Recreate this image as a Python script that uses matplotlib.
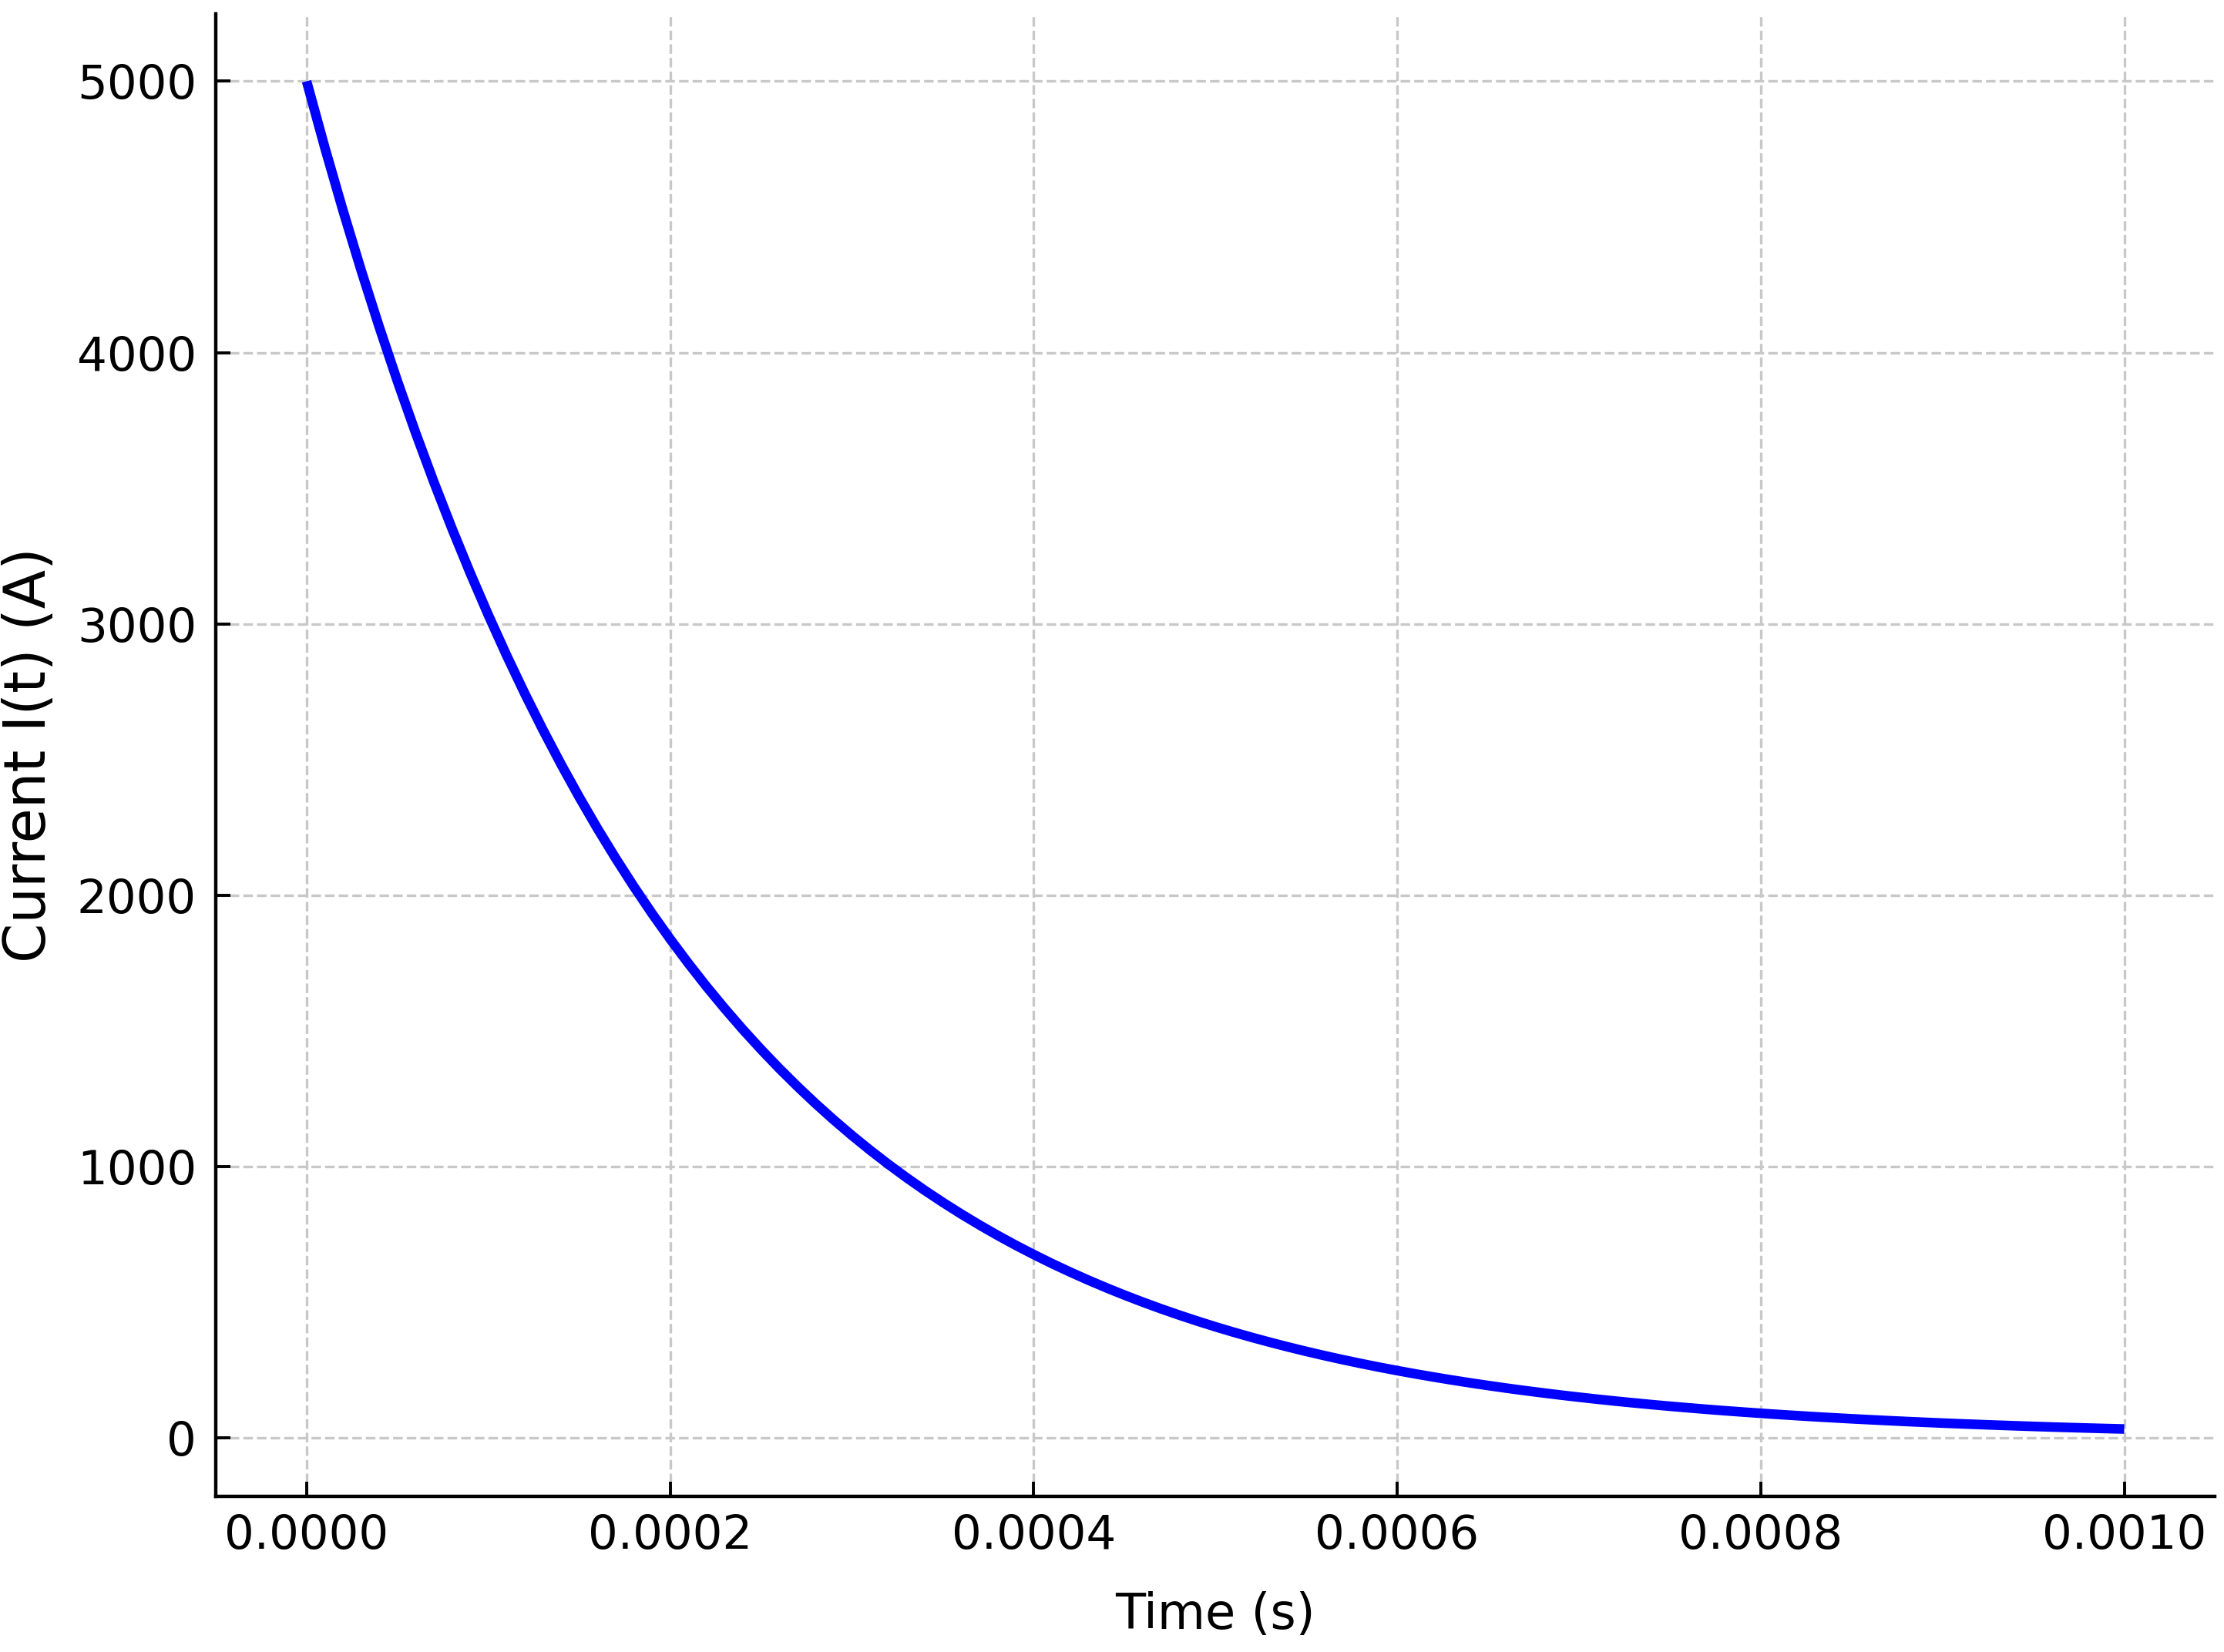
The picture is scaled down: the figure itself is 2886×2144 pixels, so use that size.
import matplotlib
matplotlib.use("Agg")
import matplotlib.pyplot as plt

# Time samples (s) and current values (A)
time_s = [k * 0.00001 for k in range(101)]
current_a = [5000.0, 4756.1, 4524.2, 4303.5, 4093.7, 3894.0, 3704.1, 3523.4, 3351.6, 3188.1,
             3032.7, 2884.8, 2744.1, 2610.3, 2483.0, 2361.9, 2246.6, 2137.1, 2032.8, 1933.7,
             1839.4, 1749.7, 1664.3, 1583.2, 1505.9, 1432.5, 1362.6, 1296.2, 1232.9, 1172.8,
             1115.6, 1061.2, 1009.5, 960.2, 913.4, 868.9, 826.5, 786.2, 747.8, 711.3,
             676.7, 643.6, 612.3, 582.4, 554.0, 527.0, 501.3, 476.8, 453.6, 431.5,
             410.4, 390.4, 371.4, 353.3, 336.0, 319.6, 304.0, 289.2, 275.1, 261.7,
             248.9, 236.8, 225.3, 214.3, 203.8, 193.9, 184.4, 175.4, 166.9, 158.7,
             151.0, 143.6, 136.6, 130.0, 123.6, 117.6, 111.9, 106.4, 101.2, 96.3,
             91.6, 87.1, 82.9, 78.8, 75.0, 71.3, 67.9, 64.6, 61.4, 58.4,
             55.5, 52.8, 50.3, 47.8, 45.5, 43.2, 41.1, 39.1, 37.2, 35.4,
             33.7]

x_ticks = [0.0, 0.0002, 0.0004, 0.0006, 0.0008, 0.0010]
x_tick_labels = ["0.0000", "0.0002", "0.0004", "0.0006", "0.0008", "0.0010"]
y_ticks = [0, 1000, 2000, 3000, 4000, 5000]
y_tick_labels = ["0", "1000", "2000", "3000", "4000", "5000"]

x_label = "Time (s)"
y_label = "Current I(t) (A)"

DPI = 200
fig = plt.figure(figsize=(2886 / DPI, 2144 / DPI), dpi=DPI)
ax = fig.add_axes([0.097, 0.0942, 0.899, 0.8974])

ax.plot(time_s, current_a, color="blue", linewidth=4.5,
        solid_joinstyle="round", solid_capstyle="butt")

ax.grid(True, linestyle="--", color="#c8c8c8", linewidth=1.2)
ax.set_axisbelow(True)

for side in ("top", "right"):
    ax.spines[side].set_visible(False)
for side in ("left", "bottom"):
    ax.spines[side].set_linewidth(1.6)
    ax.spines[side].set_color("black")

ax.tick_params(axis="both", direction="in", length=7, width=1.4,
               labelsize=22, colors="black")
ax.tick_params(axis="x", pad=8)
ax.tick_params(axis="y", pad=9)

ax.set_xticks(x_ticks)
ax.set_xticklabels(x_tick_labels)
ax.set_yticks(y_ticks)
ax.set_yticklabels(y_tick_labels)

ax.set_xlabel(x_label, fontsize=23, labelpad=15)
ax.set_ylabel(y_label, fontsize=26.5, labelpad=9)

fig.savefig("out.png", dpi=DPI)
